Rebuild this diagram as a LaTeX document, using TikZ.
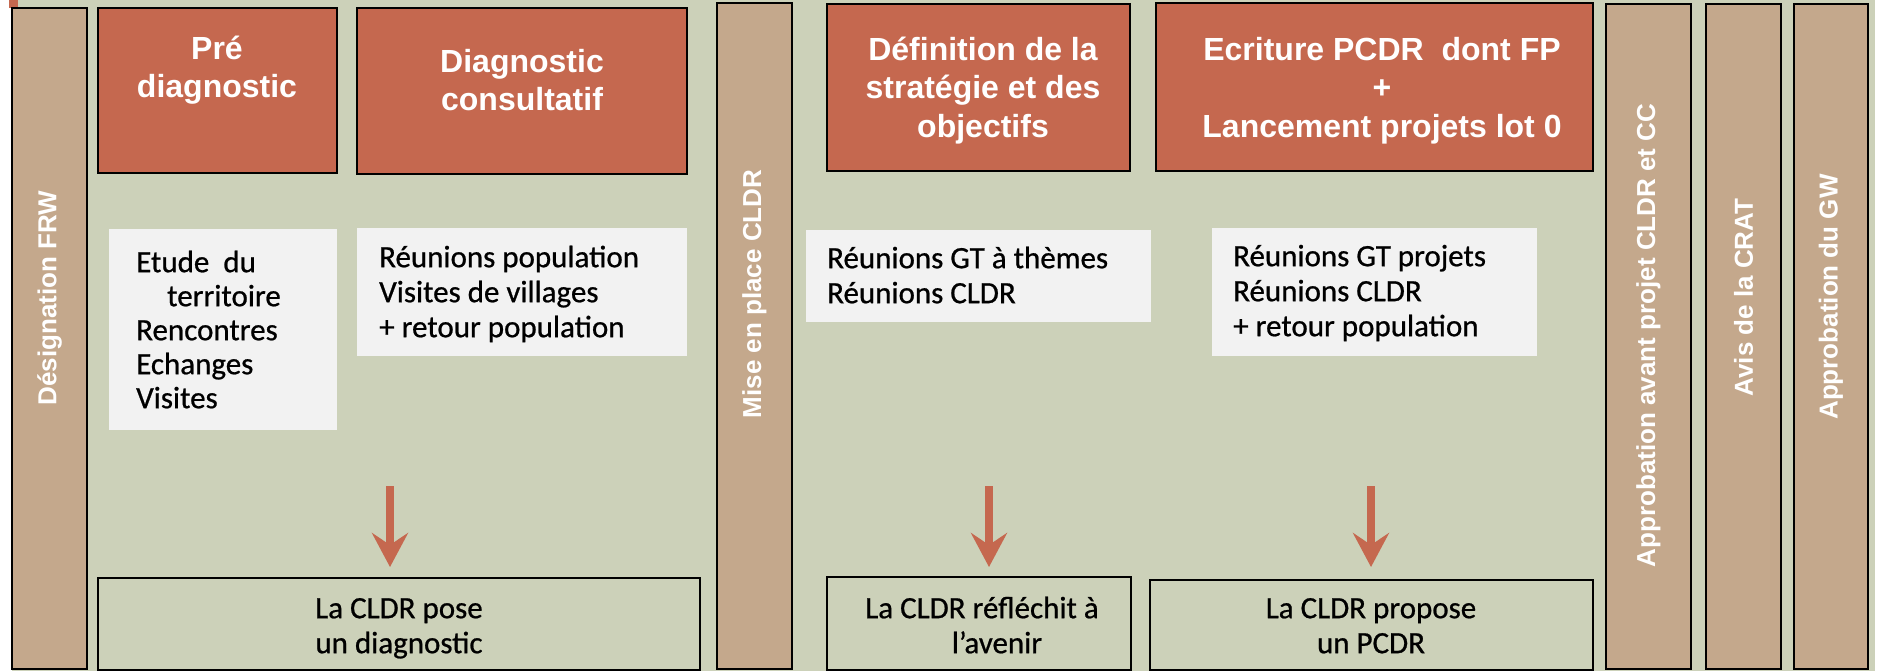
\documentclass[tikz,border=0pt]{standalone}
\usepackage{fontspec}
\setmainfont{Carlito}[FakeBold=0.7]
\newfontfamily\hdfont{Liberation Sans}
\usetikzlibrary{arrows.meta}
\definecolor{bg}{RGB}{204,209,185}
\definecolor{hdred}{RGB}{197,104,79}
\definecolor{tanbar}{RGB}{196,168,140}
\definecolor{pale}{RGB}{242,242,242}
\tikzset{
  box/.style={anchor=north west, inner sep=0pt, outer sep=0pt},
  phase/.style={box, draw=black, line width=1.3pt, fill=hdred},
  bar/.style={box, draw=black, line width=1.3pt, fill=tanbar},
  note/.style={box, fill=pale},
  result/.style={box, draw=black, line width=1.3pt, fill=bg},
  hdtext/.style={text=white, font=\hdfont\bfseries\fontsize{32}{38.5}\selectfont, align=center, inner sep=0pt, anchor=north},
  bartext/.style={text=white, font=\hdfont\bfseries\fontsize{26}{30}\selectfont, rotate=90, inner sep=0pt},
  bodytext/.style={text=black, font=\fontsize{31}{35}\selectfont, align=left, inner sep=0pt, anchor=north west},
  restext/.style={text=black, font=\fontsize{31}{35}\selectfont, align=center, inner sep=0pt, anchor=north},
  arr/.style={draw=hdred, line width=8pt, -{Stealth[length=34pt,width=36pt,inset=12pt]}},
}
\begin{document}
\begin{tikzpicture}[x=1pt,y=-1pt]
\useasboundingbox (0,0) rectangle (1879,671);
\fill[white] (0,0) rectangle (1879,671);
\fill[bg] (12,0) rectangle (1875,671);
\fill[hdred] (9,0) rectangle (18,8);

% vertical bars
\node[bar, minimum width=75pt, minimum height=661pt] (frw) at (12,8) {};
\node[bar, minimum width=75pt, minimum height=666pt] (mise) at (717,3) {};
\node[bar, minimum width=85pt, minimum height=665pt] (appr) at (1606,4) {};
\node[bar, minimum width=75pt, minimum height=665pt] (crat) at (1706,4) {};
\node[bar, minimum width=74pt, minimum height=665pt] (gw) at (1794,4) {};
\node[bartext] (frw-t) at (49.5,298) {Désignation FRW};
\node[bartext] (mise-t) at (754.5,294) {Mise en place CLDR};
\node[bartext] (appr-t) at (1648.5,335.5) {Approbation avant projet CLDR et CC};
\node[bartext] (crat-t) at (1743.5,297.5) {Avis de la CRAT};
\node[bartext] (gw-t) at (1831,297) {Approbation du GW};

% phase headers
\node[phase, minimum width=239pt, minimum height=165pt] (pre) at (98,8) {};
\node[phase, minimum width=330pt, minimum height=166pt] (diag) at (357,8) {};
\node[phase, minimum width=303pt, minimum height=167pt] (def) at (827,4) {};
\node[phase, minimum width=437pt, minimum height=168pt] (ecr) at (1156,3) {};
\node[hdtext] (pre-t) at (217,29) {\rule{0pt}{30pt}Pré\\diagnostic};
\node[hdtext] (diag-t) at (522,42) {\rule{0pt}{30pt}Diagnostic\\consultatif};
\node[hdtext] (def-t) at (983,30) {\rule{0pt}{30pt}Définition de la\\stratégie et des\\objectifs};
\node[hdtext] (ecr-t) at (1382,30) {\rule{0pt}{30pt}Ecriture PCDR~ dont FP\\+\\Lancement projets lot 0};

% activity notes
\node[note, minimum width=228pt, minimum height=201pt] (etude) at (109,229) {};
\node[note, minimum width=330pt, minimum height=128pt] (reupop) at (357,228) {};
\node[note, minimum width=345pt, minimum height=92pt] (gtthem) at (806,230) {};
\node[note, minimum width=325pt, minimum height=128pt] (gtproj) at (1212,228) {};
\node[bodytext, font=\fontsize{31}{34}\selectfont] (etude-t) at (136,247) {\rule{0pt}{25pt}Etude~ du\\\hspace*{31pt}territoire\\Rencontres\\Echanges\\Visites};
\node[bodytext] (reupop-t) at (379,242) {\rule{0pt}{25pt}Réunions population\\Visites de villages\\+ retour population};
\node[bodytext] (gtthem-t) at (827,243) {\rule{0pt}{25pt}Réunions GT à thèmes\\Réunions CLDR};
\node[bodytext] (gtproj-t) at (1233,241) {\rule{0pt}{25pt}Réunions GT projets\\Réunions CLDR\\+ retour population};

% results
\node[result, minimum width=602pt, minimum height=92pt] (r1) at (98,578) {};
\node[result, minimum width=304pt, minimum height=93pt] (r2) at (827,577) {};
\node[result, minimum width=443pt, minimum height=90pt] (r3) at (1150,580) {};
\node[restext] (r1-t) at (399,593) {\rule{0pt}{25pt}La CLDR pose\\un diagnostic};
\node[restext] (r2-t) at (982,593) {\rule{0pt}{25pt}La CLDR réfléchit à\\\hspace*{30pt}l’avenir};
\node[restext] (r3-t) at (1371,593) {\rule{0pt}{25pt}La CLDR propose\\un PCDR};

% arrows
\coordinate (a1) at (390,486);
\coordinate (a2) at (989,486);
\coordinate (a3) at (1371,486);
\draw[arr, shorten >=11pt] (a1) -- (a1 |- r1.north);
\draw[arr, shorten >=10pt] (a2) -- (a2 |- r2.north);
\draw[arr, shorten >=13pt] (a3) -- (a3 |- r3.north);
\end{tikzpicture}
\end{document}
